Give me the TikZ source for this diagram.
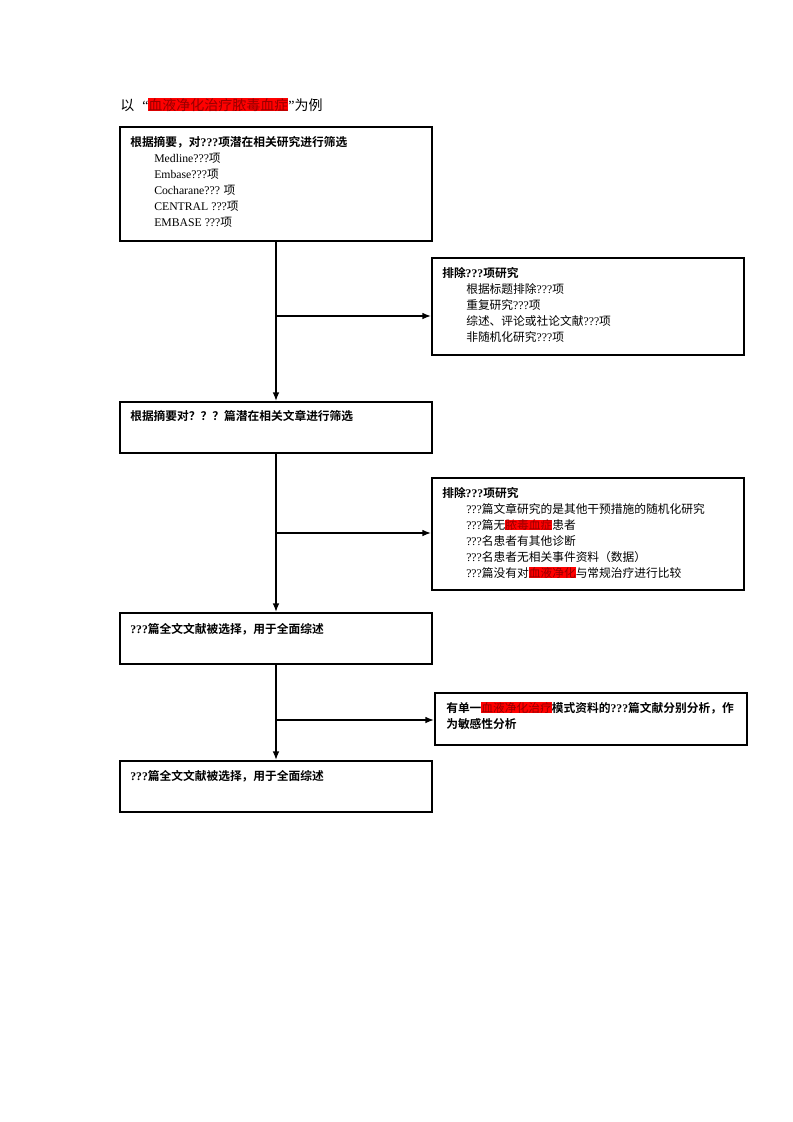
\documentclass[tikz,border=0pt]{standalone}
\usepackage{fontspec}
\setmainfont{Noto Sans CJK SC}[BoldFont=* Bold]
\newfontfamily\lat{Liberation Serif}
\usetikzlibrary{arrows.meta,positioning}

% Hervorhebung in Rot
\newcommand{\hl}[1]{{\setlength{\fboxsep}{0pt}\colorbox{hlred}{\textcolor{hltext}{#1}}}}
\newcommand{\qs}{{\lat ???}}
\definecolor{hlred}{RGB}{255,0,0}
\definecolor{hltext}{RGB}{150,0,0}

\tikzset{
	box/.style={draw, line width=1.5pt, minimum width=234pt, inner sep=0pt},
	txt/.style={anchor=north west, align=left, inner sep=0pt, font=\fontsize{8.8}{12}\selectfont},
	flow/.style={line width=1pt, -{Latex[length=6.5pt, width=5pt]}}
}

\begin{document}
\begin{tikzpicture}[x=0.75pt, y=-0.75pt]

	\useasboundingbox (0,0) rectangle (793,1122);

	% Titel
	\node[anchor=west, inner sep=0pt, font=\fontsize{10.5}{12}\selectfont] (title) at (120,105)
		{以\hspace{6pt}{\lat “}\hl{血液净化治疗脓毒血症}{\lat ”}为例};

	% 1. Kästen (Mittelpunkte in Pixelkoordinaten)
	\node[box, minimum height=85.5pt] (b1) at (276,184) {};
	\node[box, minimum height=72.75pt] (b2) at (588,306.5) {};
	\node[box, minimum height=38.25pt] (b3) at (276,427.5) {};
	\node[box, minimum height=84pt] (b4) at (588,534) {};
	\node[box, minimum height=38.25pt] (b5) at (276,638.5) {};
	\node[box, minimum height=39pt] (b6) at (591,719) {};
	\node[box, minimum height=38.25pt] (b7) at (276,786.5) {};

	% 2. Texte in den Kästen
	\node[txt] (t1) at (130,136) {\textbf{根据摘要，对{\lat\bfseries ???}项潜在相关研究进行筛选}\\
		\hspace{18pt}{\lat Medline???}项\\
		\hspace{18pt}{\lat Embase???}项\\
		\hspace{18pt}{\lat Cocharane???} 项\\
		\hspace{18pt}{\lat CENTRAL ???}项\\
		\hspace{18pt}{\lat EMBASE ???}项};
	\node[txt] (t2) at (442,267) {\textbf{排除{\lat\bfseries ???}项研究}\\
		\hspace{18pt}根据标题排除\qs 项\\
		\hspace{18pt}重复研究\qs 项\\
		\hspace{18pt}综述、评论或社论文献\qs 项\\
		\hspace{18pt}非随机化研究\qs 项};
	\node[txt] (t3) at (130,410) {\textbf{根据摘要对？？？篇潜在相关文章进行筛选}};
	\node[txt] (t4) at (442,487) {\textbf{排除{\lat\bfseries ???}项研究}\\
		\hspace{18pt}\qs 篇文章研究的是其他干预措施的随机化研究\\
		\hspace{18pt}\qs 篇无\hl{脓毒血症}患者\\
		\hspace{18pt}\qs 名患者有其他诊断\\
		\hspace{18pt}\qs 名患者无相关事件资料（数据）\\
		\hspace{18pt}\qs 篇没有对\hl{血液净化}与常规治疗进行比较};
	\node[txt] (t5) at (130,623) {\textbf{{\lat ???}篇全文文献被选择，用于全面综述}};
	\node[txt] (t6) at (446,702) {\textbf{有单一\hl{\mdseries 血液净化治疗}模式资料的{\lat ???}篇文献分别分析，作}\\
		\textbf{为敏感性分析}};
	\node[txt] (t7) at (130,770) {\textbf{{\lat ???}篇全文文献被选择，用于全面综述}};

	% 3. Verbindungen
	\coordinate (j1) at (276,316);
	\coordinate (j2) at (276,533);
	\coordinate (j3) at (276,720);
	\draw[flow] (b1.south) -- (b3.north);
	\draw[flow] (j1) -- (j1 -| b2.west);
	\draw[flow] (b3.south) -- (b5.north);
	\draw[flow] (j2) -- (j2 -| b4.west);
	\draw[flow] (b5.south) -- (b7.north);
	\draw[flow] (j3) -- (j3 -| b6.west);

\end{tikzpicture}
\end{document}
